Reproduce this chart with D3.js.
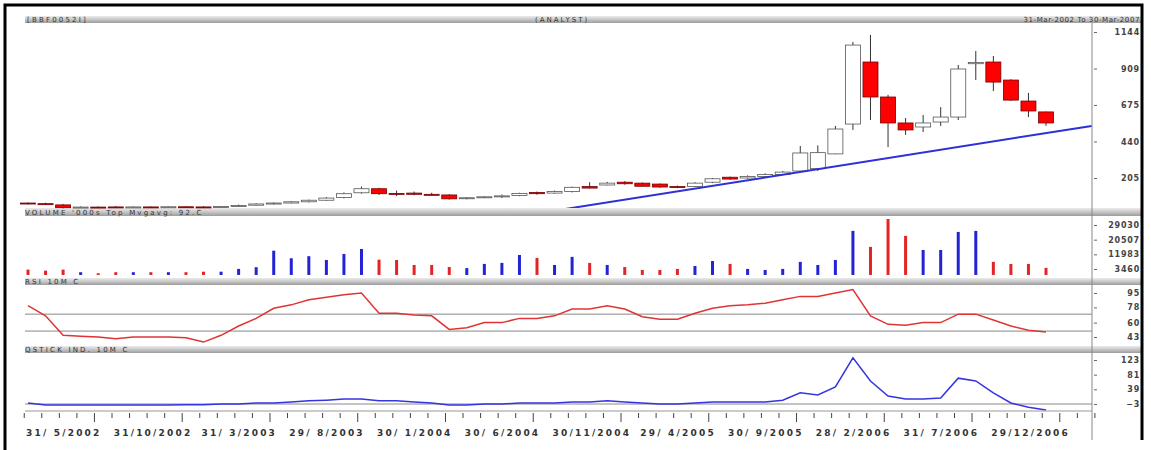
<!DOCTYPE html>
<html>
<head>
<meta charset="utf-8">
<script src="https://cdn.jsdelivr.net/npm/d3@7"></script>
<style>
body { margin: 0; background: #fff; }
text { font-family: "DejaVu Sans", sans-serif; }
</style>
</head>
<body>
<div id="chart"></div>
<script>
// Monthly candles, May 2002 .. Mar 2007 (index 0 .. 58)
const opens  = [44,40,32,14,18,19,16,19,18,20,19,18,22,30,38,44,52,62,80,110,136,106,108,100,96,72,80,84,92,112,108,118,150,160,178,172,166,150,150,178,210,205,215,228,250,265,360,552,951,726,559,533,565,597,940,951,835,700,630];
const highs  = [48,46,38,22,22,24,22,22,22,23,24,25,34,42,48,56,66,82,112,150,142,124,118,110,100,82,88,98,110,118,124,150,178,180,185,176,170,156,178,205,214,222,235,250,411,415,540,1080,1125,740,591,610,661,932,1022,990,840,752,632];
const lows   = [36,34,10,12,14,14,14,15,15,16,15,17,20,28,35,42,48,58,74,104,96,88,94,92,66,68,76,76,88,98,104,112,138,158,162,150,142,140,148,172,194,200,210,222,245,250,358,514,578,404,482,501,540,578,835,764,700,597,540];
const closes = [40,38,14,18,17,16,19,18,20,19,18,22,28,38,44,52,62,76,104,136,104,102,100,98,71,78,84,90,106,104,118,145,140,172,168,152,147,145,172,200,198,215,228,243,366,368,520,1060,726,559,514,559,597,906,948,822,706,636,559];

// Volume ('000s)
const volumes = [3100,2500,3100,1600,1000,1600,1600,1600,1600,1600,1900,1900,3500,4500,14100,9700,10900,8700,12200,15100,8900,8700,5800,5800,4600,4000,6400,7000,11600,9900,5800,10500,7000,5800,4600,2900,2900,3500,5200,8100,6400,3500,2900,3500,7600,5800,8700,25600,16300,32500,22700,14500,14500,25000,25600,7600,6400,6400,4100];

// RSI 10M
const rsi = [80,68,45,44,43,41,43,43,43,42,37,45,56,65,77,81,87,90,93,95,71,71,69,68,52,54,60,60,65,65,68,76,76,80,76,67,64,64,71,77,80,81,83,87,91,91,95,99,68,58,57,60,60,70,70,63,56,51,49];

// QStick indicator 10M
const qstick = [0,-6,-6,-6,-6,-6,-6,-6,-6,-5,-5,-3,-3,0,0,3,6,8,11,11,6,6,3,0,-6,-6,-3,-3,0,0,0,3,3,6,3,0,-3,-3,0,3,3,3,3,8,29,23,46,129,63,20,11,11,14,71,63,29,0,-12,-20];

// Trend line (month index, price)
const trendIdx = [30.3, 60.6];
const trendVal = [0, 540];

// Axis ticks
const priceTicks = [1144, 909, 675, 440, 205];
const volumeTicks = [29030, 20507, 11983, 3460];
const rsiTicks = [95, 78, 60, 43];
const rsiLevels = [70, 50];
const qsTicks = [123, 81, 39, -3];
const qsLevels = [-3];
const dateLabelIdx = [0, 5, 10, 15, 20, 25, 30, 35, 40, 45, 50, 55];
const dateLabels = ["31/ 5/2002", "31/10/2002", "31/ 3/2003", "29/ 8/2003", "30/ 1/2004", "30/ 6/2004",
    "30/11/2004", "29/ 4/2005", "30/ 9/2005", "28/ 2/2006", "31/ 7/2006", "29/12/2006"];

const W = 1151, H = 450;
const left = 25, right = 1092, frameRight = 1142;

const svg = d3.select("#chart")
    .append("svg")
    .attr("width", W)
    .attr("height", H);

// gradient for the grey title bars
const grad = svg.append("defs").append("linearGradient")
    .attr("id", "bar")
    .attr("x1", 0).attr("y1", 0).attr("x2", 0).attr("y2", 1);
grad.append("stop").attr("offset", "0%").attr("stop-color", "#ececec");
grad.append("stop").attr("offset", "55%").attr("stop-color", "#c2c2c2");
grad.append("stop").attr("offset", "100%").attr("stop-color", "#9c9c9c");

svg.select("defs").append("clipPath").attr("id", "priceClip")
    .append("rect").attr("x", left).attr("y", 23).attr("width", right - left).attr("height", 185);

// Scales
const x = d3.scaleLinear().domain([0, 58]).range([28, 1046]);
const yPrice = d3.scaleLinear().domain([205, 1144]).range([178, 32]);
const yVol = d3.scaleLinear().domain([3460, 29030]).range([269, 225]);
const yRsi = d3.scaleLinear().domain([43, 95]).range([337, 293]);
const yQs = d3.scaleLinear().domain([-3, 123]).range([404, 360]);

const idx = d3.range(opens.length);

// Title bars
const bars = [
    { y: 16, h: 7, text: "[BBF0052I]", x: 27 },
    { y: 208, h: 8, text: "VOLUME '000s Top Mvgavg: 92.C", x: 25 },
    { y: 278, h: 7, text: "RSI 10M C", x: 25 },
    { y: 346, h: 7, text: "QSTICK IND. 10M C", x: 25 }
];
svg.selectAll("rect.bar")
    .data(bars)
    .enter()
    .append("rect")
    .attr("class", "bar")
    .attr("x", left)
    .attr("y", d => d.y)
    .attr("width", frameRight - left)
    .attr("height", d => d.h)
    .style("fill", "url(#bar)");
svg.selectAll("text.bar")
    .data(bars)
    .enter()
    .append("text")
    .attr("class", "bar")
    .attr("x", d => d.x)
    .attr("y", d => d.y + d.h - 1)
    .text(d => d.text)
    .style("font-size", "7px")
    .style("letter-spacing", "2.2px")
    .style("fill", "#333");
svg.append("text").attr("x", 535).attr("y", 22).text("(ANALYST)")
    .style("font-size", "7px").style("letter-spacing", "2px").style("fill", "#333");
svg.append("text").attr("x", 1140).attr("y", 22).attr("text-anchor", "end")
    .text("31-Mar-2002 To 30-Mar-2007")
    .style("font-size", "7px").style("letter-spacing", "0.6px").style("fill", "#333");

// Reference lines
svg.selectAll("line.rsiLevel")
    .data(rsiLevels)
    .enter()
    .append("line")
    .attr("x1", left).attr("x2", right)
    .attr("y1", d => yRsi(d)).attr("y2", d => yRsi(d))
    .style("stroke", "#888").style("stroke-width", 1);
svg.selectAll("line.qsLevel")
    .data(qsLevels)
    .enter()
    .append("line")
    .attr("x1", left).attr("x2", right)
    .attr("y1", d => yQs(d)).attr("y2", d => yQs(d))
    .style("stroke", "#888").style("stroke-width", 1);

// Candles
const candle = svg.append("g").selectAll("g")
    .data(idx)
    .enter()
    .append("g");
candle.append("line")
    .attr("x1", i => x(i)).attr("x2", i => x(i))
    .attr("y1", i => yPrice(highs[i]))
    .attr("y2", i => yPrice(lows[i]))
    .style("stroke", "#333")
    .style("stroke-width", 1);
candle.append("rect")
    .attr("x", i => x(i) - 7.5)
    .attr("width", 15)
    .attr("y", i => yPrice(Math.max(opens[i], closes[i])))
    .attr("height", i => Math.max(1, Math.abs(yPrice(opens[i]) - yPrice(closes[i]))))
    .style("fill", i => closes[i] >= opens[i] ? "#fff" : "#f00")
    .style("stroke", i => closes[i] >= opens[i] ? "#555" : "#700")
    .style("stroke-width", 0.8);

// Trend line
svg.append("line")
    .attr("clip-path", "url(#priceClip)")
    .attr("x1", x(trendIdx[0])).attr("y1", yPrice(trendVal[0]))
    .attr("x2", x(trendIdx[1])).attr("y2", yPrice(trendVal[1]))
    .style("stroke", "#2f2fd8")
    .style("stroke-width", 2);

// Volume bars, coloured by close vs previous close
svg.selectAll("rect.vol")
    .data(idx)
    .enter()
    .append("rect")
    .attr("class", "vol")
    .attr("x", i => x(i) - 1.5)
    .attr("width", 3)
    .attr("y", i => yVol(volumes[i]))
    .attr("height", i => yVol(0) - yVol(volumes[i]))
    .style("fill", i => closes[i] >= (i ? closes[i - 1] : opens[i]) ? "#2323d6" : "#e42424");

// RSI line
svg.append("path")
    .datum(idx)
    .attr("d", d3.line().x(i => x(i)).y(i => yRsi(rsi[i])))
    .style("fill", "none")
    .style("stroke", "#e03434")
    .style("stroke-width", 1.5);

// QStick line
svg.append("path")
    .datum(idx)
    .attr("d", d3.line().x(i => x(i)).y(i => yQs(qstick[i])))
    .style("fill", "none")
    .style("stroke", "#3434e0")
    .style("stroke-width", 1.5);

// Right axes
function rightAxis(scale, ticks) {
    const g = svg.append("g").attr("transform", `translate(${right},0)`);
    g.call(d3.axisRight(scale).tickValues(ticks).tickSize(5).tickPadding(8).tickFormat(d3.format("d")));
    g.select(".domain").remove();
    g.selectAll(".tick line").attr("x1", 2).style("stroke", "#666");
    g.selectAll(".tick text")
        .attr("x", frameRight - right - 2)
        .attr("text-anchor", "end")
        .style("font-family", "DejaVu Sans")
        .style("font-size", "8px")
        .style("font-weight", "bold")
        .style("letter-spacing", "0.8px")
        .style("fill", "#444");
}
rightAxis(yPrice, priceTicks);
rightAxis(yVol, volumeTicks);
rightAxis(yRsi, rsiTicks);
rightAxis(yQs, qsTicks);

svg.append("line")
    .attr("x1", right).attr("x2", right).attr("y1", 23).attr("y2", 440)
    .style("stroke", "#888").style("stroke-width", 1);

// Bottom date axis
svg.append("line")
    .attr("x1", left).attr("x2", right).attr("y1", 411).attr("y2", 411)
    .style("stroke", "#999").style("stroke-width", 1);
const monthTicks = d3.range(-0.1, 61, 1);
svg.selectAll("line.mt")
    .data(monthTicks)
    .enter()
    .append("line")
    .attr("x1", d => x(d) - 2).attr("x2", d => x(d) - 2)
    .attr("y1", 413)
    .attr("y2", (d, k) => k % 5 === 4 ? 422 : 418)
    .style("stroke", "#444").style("stroke-width", 1);
svg.selectAll("text.date")
    .data(dateLabelIdx)
    .enter()
    .append("text")
    .attr("x", d => x(d) - 2)
    .attr("y", 436)
    .text((d, k) => dateLabels[k])
    .style("font-size", "9px")
    .style("font-weight", "bold")
    .style("letter-spacing", "2.2px")
    .style("fill", "#333");

// Outer frame
svg.append("path")
    .attr("d", `M5,${H} L5,5 L${frameRight},5 L${frameRight},440`)
    .style("fill", "none")
    .style("stroke", "#000")
    .style("stroke-width", 3);
</script>
</body>
</html>
